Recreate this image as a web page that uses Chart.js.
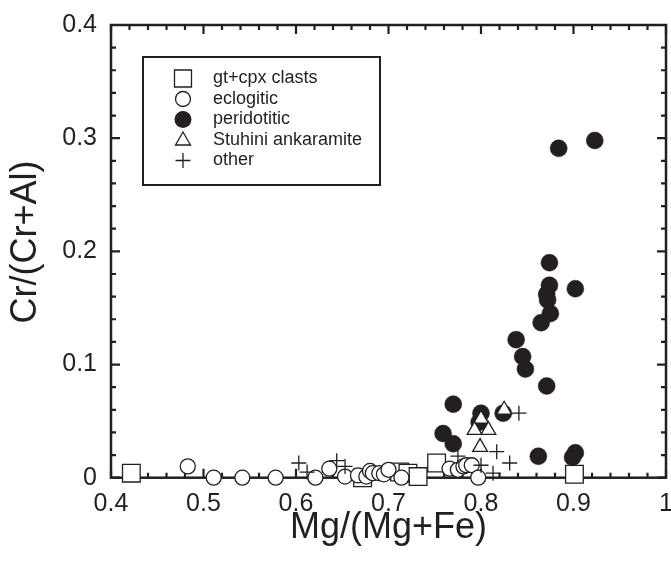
<!DOCTYPE html>
<html>
<head>
<meta charset="utf-8">
<script src="https://cdn.jsdelivr.net/npm/chart.js@4.4.1/dist/chart.umd.min.js"></script>
<style>
  html, body { margin: 0; padding: 0; background: #fff; }
  #wrap { width: 671px; height: 563px; }
</style>
</head>
<body>
<div id="wrap"><canvas id="chart" width="671" height="563"></canvas></div>
<script>
// Mg/(Mg+Fe) vs Cr/(Cr+Al) for each inclusion group
const clastMg = [0.422, 0.672, 0.712, 0.721, 0.732, 0.752, 0.901];
const clastCr = [0.004, 0.000, 0.005, 0.004, 0.001, 0.013, 0.003];

const eclogiticMg = [0.483, 0.511, 0.542, 0.578, 0.621, 0.636, 0.653, 0.667, 0.676, 0.680,
                     0.683, 0.690, 0.695, 0.700, 0.714, 0.766, 0.775, 0.781, 0.784, 0.790, 0.797];
const eclogiticCr = [0.010, 0.000, 0.000, 0.000, 0.000, 0.008, 0.001, 0.002, 0.001, 0.006,
                     0.004, 0.004, 0.003, 0.007, 0.000, 0.008, 0.007, 0.010, 0.011, 0.011, 0.000];

const peridotiticMg = [0.923, 0.884, 0.874, 0.874, 0.902, 0.871, 0.872, 0.875, 0.865, 0.838, 0.845,
                       0.848, 0.871, 0.824, 0.800, 0.770, 0.759, 0.770, 0.798, 0.862, 0.899, 0.902];
const peridotiticCr = [0.298, 0.291, 0.190, 0.170, 0.167, 0.162, 0.157, 0.145, 0.137, 0.122, 0.107,
                       0.096, 0.081, 0.057, 0.057, 0.065, 0.039, 0.030, 0.049, 0.019, 0.018, 0.022];

const stuhiniMg = [0.800, 0.825, 0.793, 0.808, 0.799];
const stuhiniCr = [0.052, 0.060, 0.042, 0.042, 0.027];

const otherMg = [0.603, 0.612, 0.644, 0.653, 0.775, 0.800, 0.817, 0.831, 0.813, 0.841];
const otherCr = [0.013, 0.005, 0.015, 0.010, 0.019, 0.011, 0.023, 0.013, 0.004, 0.057];

const groupNames = ['gt+cpx clasts', 'eclogitic', 'peridotitic', 'Stuhini ankaramite', 'other'];
const xTitle = 'Mg/(Mg+Fe)';
const yTitle = 'Cr/(Cr+Al)';

const ink = '#231f20';
const fontFamily = '"Liberation Sans", Arial, Helvetica, sans-serif';

function toXY(xs, ys) {
    return xs.map((v, i) => ({ x: v, y: ys[i] }));
}

// 0.4 ... 0.9, 1 (no trailing zero)
function tickText(v) {
    return String(Number(v.toFixed(2)));
}

// axis frame with inward major/minor ticks on all four sides
const framePlugin = {
    id: 'frame',
    beforeDatasetsDraw(chart) {
        const { ctx, chartArea: a, scales: { x, y } } = chart;
        ctx.save();
        ctx.strokeStyle = ink;
        ctx.lineWidth = 2.5;
        ctx.strokeRect(a.left, a.top, a.right - a.left, a.bottom - a.top);
        ctx.lineWidth = 2.2;
        ctx.beginPath();
        for (let i = 0; i <= 30; i++) {
            const px = x.getPixelForValue(0.4 + i * 0.02);
            const len = i % 5 === 0 ? 9 : 5;
            ctx.moveTo(px, a.bottom); ctx.lineTo(px, a.bottom - len);
            ctx.moveTo(px, a.top); ctx.lineTo(px, a.top + len);
        }
        for (let i = 0; i <= 20; i++) {
            const py = y.getPixelForValue(i * 0.02);
            const len = i % 5 === 0 ? 9 : 5;
            ctx.moveTo(a.left, py); ctx.lineTo(a.left + len, py);
            ctx.moveTo(a.right, py); ctx.lineTo(a.right - len, py);
        }
        ctx.stroke();
        ctx.restore();
    }
};

function drawMarker(ctx, kind, cx, cy) {
    ctx.beginPath();
    if (kind === 0) {
        ctx.rect(cx - 8.5, cy - 8.5, 17, 17);
        ctx.fillStyle = '#fff'; ctx.fill(); ctx.stroke();
    } else if (kind === 1) {
        ctx.arc(cx, cy, 7.5, 0, Math.PI * 2);
        ctx.fillStyle = '#fff'; ctx.fill(); ctx.stroke();
    } else if (kind === 2) {
        ctx.arc(cx, cy, 8.5, 0, Math.PI * 2);
        ctx.fillStyle = ink; ctx.fill();
    } else if (kind === 3) {
        ctx.moveTo(cx, cy - 8);
        ctx.lineTo(cx + 7.5, cy + 5);
        ctx.lineTo(cx - 7.5, cy + 5);
        ctx.closePath();
        ctx.fillStyle = '#fff'; ctx.fill(); ctx.stroke();
    } else {
        ctx.moveTo(cx - 7.5, cy); ctx.lineTo(cx + 7.5, cy);
        ctx.moveTo(cx, cy - 7.5); ctx.lineTo(cx, cy + 7.5);
        ctx.stroke();
    }
}

// boxed key in the upper left of the plot, plus the rotated y title
const keyPlugin = {
    id: 'key',
    afterDraw(chart) {
        const ctx = chart.ctx;
        ctx.save();
        ctx.strokeStyle = ink;
        ctx.lineWidth = 2;
        ctx.fillStyle = '#fff';
        ctx.fillRect(143, 57, 237, 128);
        ctx.strokeRect(143, 57, 237, 128);
        ctx.lineWidth = 1.3;
        ctx.font = '18px ' + fontFamily;
        ctx.textBaseline = 'middle';
        groupNames.forEach((name, i) => {
            const cy = 78.5 + i * 20.5;
            drawMarker(ctx, i, 183, cy);
            ctx.fillStyle = ink;
            ctx.fillText(name, 213, cy);
        });

        ctx.translate(26, 242);
        ctx.rotate(-Math.PI / 2);
        ctx.font = '36px ' + fontFamily;
        ctx.textAlign = 'center';
        ctx.fillStyle = ink;
        ctx.fillText(yTitle, 0, 0);
        ctx.restore();
    }
};

const common = { borderColor: ink, borderWidth: 1.3, clip: false };

new Chart(document.getElementById('chart'), {
    type: 'scatter',
    data: {
        datasets: [
            { ...common, label: groupNames[0], data: toXY(clastMg, clastCr),
              pointStyle: 'rect', pointRadius: 12.5, backgroundColor: '#fff', order: 5 },
            { ...common, label: groupNames[1], data: toXY(eclogiticMg, eclogiticCr),
              pointStyle: 'circle', pointRadius: 7.5, backgroundColor: '#fff', order: 4 },
            { ...common, label: groupNames[2], data: toXY(peridotiticMg, peridotiticCr),
              pointStyle: 'circle', pointRadius: 8.5, backgroundColor: ink, borderWidth: 0.5, order: 3 },
            { ...common, label: groupNames[3], data: toXY(stuhiniMg, stuhiniCr),
              pointStyle: 'triangle', pointRadius: 8.5, backgroundColor: '#fff', order: 2 },
            { ...common, label: groupNames[4], data: toXY(otherMg, otherCr),
              pointStyle: 'cross', pointRadius: 7.5, order: 1 }
        ]
    },
    options: {
        responsive: false,
        animation: false,
        events: [],
        devicePixelRatio: 1,
        layout: { autoPadding: false, padding: { top: 25, right: 5, left: 0, bottom: 0 } },
        plugins: {
            legend: { display: false },
            tooltip: { enabled: false }
        },
        scales: {
            x: {
                type: 'linear',
                min: 0.4,
                max: 1,
                grid: { display: false, drawTicks: false },
                border: { display: false },
                ticks: {
                    stepSize: 0.1, padding: 11, color: ink,
                    font: { family: fontFamily, size: 25 }, callback: tickText
                },
                title: {
                    display: true, text: xTitle, color: ink,
                    font: { family: fontFamily, size: 36 }, padding: { top: 0, bottom: 13 }
                },
                afterFit(s) { s.height = 85.3; s.paddingLeft = 0; s.paddingRight = 0; }
            },
            y: {
                type: 'linear',
                min: 0,
                max: 0.4,
                grid: { display: false, drawTicks: false },
                border: { display: false },
                ticks: {
                    stepSize: 0.1, padding: 14, color: ink,
                    font: { family: fontFamily, size: 25 }, callback: tickText
                },
                afterFit(s) { s.width = 111; s.paddingTop = 0; s.paddingBottom = 0; }
            }
        }
    },
    plugins: [framePlugin, keyPlugin]
});
</script>
</body>
</html>
